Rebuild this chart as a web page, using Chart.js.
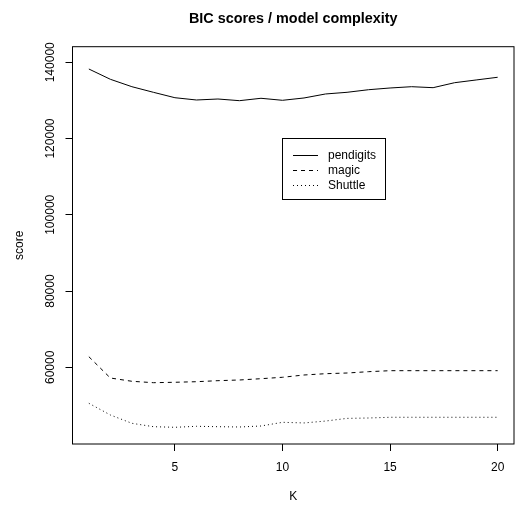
<!DOCTYPE html>
<html>
<head>
<meta charset="utf-8">
<title>BIC scores / model complexity</title>
<script src="https://cdn.jsdelivr.net/npm/chart.js@4/dist/chart.umd.min.js"></script>
<style>
	html, body { margin: 0; padding: 0; background: #fff; }
	#wrap { position: relative; width: 518px; height: 506px; }
</style>
</head>
<body>
<div id="wrap"><canvas id="bic-chart"></canvas></div>
<script>
(function () {
	'use strict';

	// Values.
	var K = [1, 2, 3, 4, 5, 6, 7, 8, 9, 10, 11, 12, 13, 14, 15, 16, 17, 18, 19, 20];
	var PENDIGITS = [138240, 135540, 133600, 132130, 130710, 130110, 130370, 129930, 130560, 130030,
		130640, 131690, 132130, 132810, 133260, 133600, 133340, 134650, 135360, 136070];
	var MAGIC = [62780, 57190, 56330, 55960, 56070, 56220, 56490, 56670, 57010, 57380,
		57980, 58320, 58500, 58850, 59110, 59110, 59110, 59110, 59110, 59110];
	var SHUTTLE = [50560, 47490, 45310, 44420, 44260, 44520, 44420, 44340, 44600, 45570,
		45400, 45900, 46600, 46700, 46890, 46890, 46890, 46890, 46890, 46890];
	var SERIES_NAMES = ['pendigits', 'magic', 'Shuttle'];
	var X_TICKS = [5, 10, 15, 20];
	var Y_TICKS = [60000, 80000, 100000, 120000, 140000];

	var FONT = '"Liberation Sans", Arial, Helvetica, sans-serif';
	var DASHES = [[], [4, 4], [1, 3]];

	function points(values) {
		return values.map(function (v, i) { return { x: K[i], y: v }; });
	}

	// --- Title, axis titles, box and legend (R base-graphics look) ---
	var decorPlugin = {
		id: 'rDecor',
		afterDraw: function (chart) {
			var ctx = chart.ctx;
			var a = chart.chartArea;
			var cx = (a.left + a.right) / 2;

			ctx.save();
			ctx.fillStyle = '#000';
			ctx.strokeStyle = '#000';
			ctx.lineWidth = 1;

			// Box round the plot region.
			ctx.strokeRect(a.left, a.top, a.right - a.left, a.bottom - a.top);

			// Title.
			ctx.font = 'bold 14.4px ' + FONT;
			ctx.textAlign = 'center';
			ctx.textBaseline = 'alphabetic';
			ctx.fillText('BIC scores / model complexity', cx, 23);

			// Axis titles.
			ctx.font = '12px ' + FONT;
			ctx.textBaseline = 'middle';
			ctx.fillText('K', cx, 497);
			ctx.save();
			ctx.translate(20, (a.top + a.bottom) / 2);
			ctx.rotate(-Math.PI / 2);
			ctx.fillText('score', 0, 0);
			ctx.restore();

			// Legend.
			var lx = 282.5, ly = 138.5, lw = 103, lh = 61;
			ctx.fillStyle = '#fff';
			ctx.fillRect(lx, ly, lw, lh);
			ctx.strokeRect(lx, ly, lw, lh);
			ctx.fillStyle = '#000';
			ctx.textAlign = 'left';
			chart.data.datasets.forEach(function (ds, i) {
				var y = 155 + i * 15;
				ctx.save();
				ctx.setLineDash(ds.borderDash || []);
				ctx.beginPath();
				ctx.moveTo(293, y + 0.5);
				ctx.lineTo(318, y + 0.5);
				ctx.stroke();
				ctx.restore();
				ctx.fillText(ds.label, 328, y + 1);
			});

			ctx.restore();
		}
	};

	function init() {
		var ctx = document.getElementById('bic-chart');
		var seriesData = [PENDIGITS, MAGIC, SHUTTLE];

		var datasets = seriesData.map(function (values, i) {
			return {
				label: SERIES_NAMES[i],
				data: points(values),
				borderColor: '#000',
				backgroundColor: '#000',
				borderWidth: 1,
				borderDash: DASHES[i],
				pointRadius: 0,
				tension: 0,
				fill: false
			};
		});

		new Chart(ctx, {
			type: 'line',
			data: { datasets: datasets },
			plugins: [decorPlugin],
			options: {
				responsive: true,
				maintainAspectRatio: false,
				animation: false,
				layout: { padding: { top: 46.7, right: 4, left: 0, bottom: 0 } },
				plugins: {
					legend: { display: false },
					title: { display: false },
					tooltip: { enabled: false }
				},
				scales: {
					x: {
						type: 'linear',
						min: 0.24,
						max: 20.76,
						afterBuildTicks: function (scale) {
							scale.ticks = X_TICKS.map(function (v) { return { value: v }; });
						},
						afterFit: function (scale) { scale.height = 62; },
						border: { display: false },
						grid: { drawOnChartArea: false, drawTicks: true, tickLength: 7, color: '#000', lineWidth: 1 },
						ticks: { color: '#000', padding: 9, maxRotation: 0, font: { family: FONT, size: 12 } }
					},
					y: {
						type: 'linear',
						min: 39880,
						max: 144090,
						afterBuildTicks: function (scale) {
							scale.ticks = Y_TICKS.map(function (v) { return { value: v }; });
						},
						afterFit: function (scale) { scale.width = 72.5; },
						border: { display: false },
						grid: { drawOnChartArea: false, drawTicks: true, tickLength: 7, color: '#000', lineWidth: 1 },
						ticks: {
							color: '#000',
							padding: -5.5,
							minRotation: 90,
							maxRotation: 90,
							crossAlign: 'center',
							font: { family: FONT, size: 12 },
							callback: function (v) { return String(v); }
						}
					}
				}
			}
		});
	}

	if (document.readyState === 'loading') {
		document.addEventListener('DOMContentLoaded', init);
	} else {
		init();
	}
})();
</script>
</body>
</html>
